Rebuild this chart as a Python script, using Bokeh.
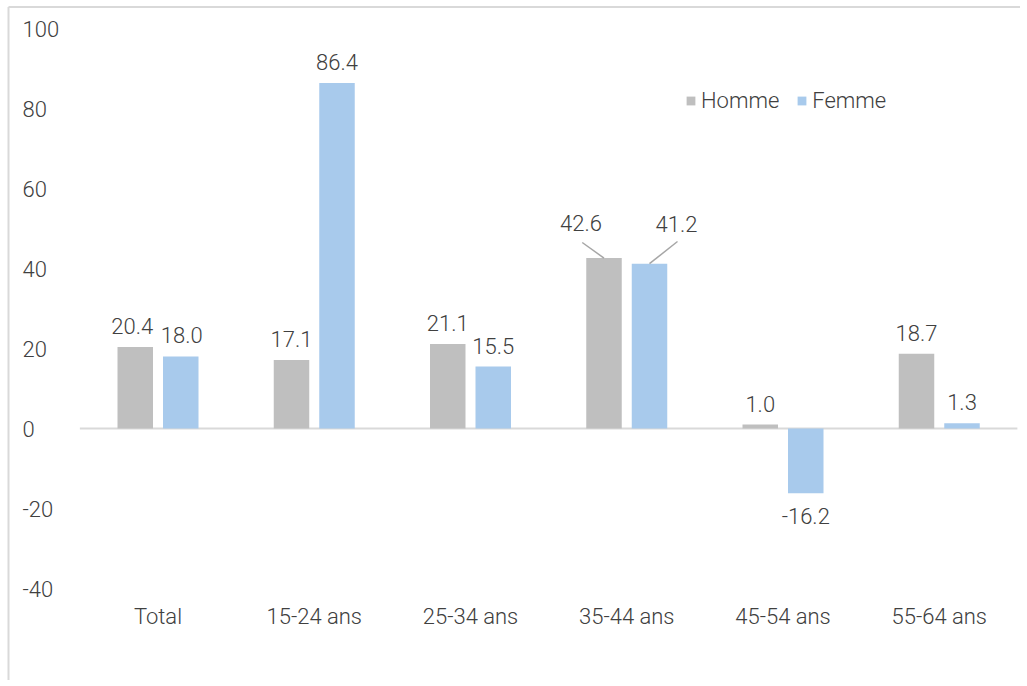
from bokeh.plotting import figure
from bokeh.models import Range1d, ColumnDataSource, Legend, LegendItem
from bokeh.core.properties import value
from bokeh.embed import file_html
from bokeh.resources import INLINE
import numpy as np

# ---------------- data ----------------
categories = ["Total", "15-24 ans", "25-34 ans", "35-44 ans", "45-54 ans", "55-64 ans"]
homme = [20.4, 17.1, 21.1, 42.6, 1.0, 18.7]
femme = [18.0, 86.4, 15.5, 41.2, -16.2, 1.3]
y_ticks = [-40, -20, 0, 20, 40, 60, 80, 100]
series_names = ["Homme", "Femme"]

# ---------------- layout / style ----------------
W, H = 1020, 680
SX = 156.25          # px per category
SY = 4.0             # px per y unit
LEFT_PAD = 157.5     # px from frame left edge to first category centre
ZERO_PX = 428        # px from frame top to y = 0
OFF = 22.75 / SX     # dodge offset of each bar
BAR_W = 35.5 / SX

FONT_NAME = "Roboto Light, Roboto"
FONT = value(FONT_NAME)
FSIZE = value("22px")
TXT = "#404040"
C_H = "#bfbfbf"
C_F = "#a8caec"
GRID = "#d9d9d9"

x0 = -LEFT_PAD / SX
x1 = x0 + W / SX
y1 = ZERO_PX / SY
y0 = y1 - H / SY

p = figure(width=W, height=H, x_range=Range1d(x0, x1), y_range=Range1d(y0, y1),
           x_axis_type=None, y_axis_type=None, output_backend="svg",
           toolbar_location=None, min_border=0)
p.grid.visible = False
p.outline_line_color = None
p.background_fill_color = "white"
p.border_fill_color = "white"

# chart-area border (top and left)
p.segment(x0=[x0 + 8 / SX], y0=[y1 - 6.5 / SY], x1=[x1], y1=[y1 - 6.5 / SY], line_color=GRID, line_width=2)
p.segment(x0=[x0 + 8 / SX], y0=[y0], x1=[x0 + 8 / SX], y1=[y1 - 6.5 / SY], line_color=GRID, line_width=2)

# zero line
p.segment(x0=[-0.5], y0=[0], x1=[len(categories) - 0.5], y1=[0], line_color=GRID, line_width=2)

idx = np.arange(len(categories))
src_h = ColumnDataSource(dict(x=idx - OFF, top=homme))
src_f = ColumnDataSource(dict(x=idx + OFF, top=femme))
r_h = p.vbar(x="x", top="top", bottom=0, width=BAR_W, source=src_h, fill_color=C_H, line_color=None)
r_f = p.vbar(x="x", top="top", bottom=0, width=BAR_W, source=src_f, fill_color=C_F, line_color=None)

# data labels
# manual nudges (px) for some labels: (series, index) -> (dx, px above value)
nudges = {("H", 0): (-3, 21), ("F", 0): (1, 22), ("H", 3): (-23, 35), ("F", 3): (27, 40)}
lx, ly, lt, xo, yo = [], [], [], [], []
for key, xs, vals in (("H", idx - OFF, homme), ("F", idx + OFF, femme)):
    for i, (xx, v) in enumerate(zip(xs, vals)):
        dx, up = nudges.get((key, i), (0, 21))
        lx.append(xx)
        ly.append(v)
        lt.append(f"{v:.1f}")
        xo.append(dx)
        yo.append(-up if v >= 0 else 23)
p.text(x="x", y="y", text="t", x_offset="xo", y_offset="yo",
       source=ColumnDataSource(dict(x=lx, y=ly, t=lt, xo=xo, yo=yo)),
       text_font=FONT, text_font_size=FSIZE, text_color=TXT,
       text_align="center", text_baseline="alphabetic")

# leader lines for 35-44 ans
i3 = categories.index("35-44 ans")
p.segment(x0=[i3 - OFF, i3 + OFF], y0=[homme[i3], femme[i3]],
          x1=[i3 - OFF - 21.75 / SX, i3 + OFF + 28 / SX],
          y1=[homme[i3] + 15.6 / SY, femme[i3] + 22.2 / SY],
          line_color="#a6a6a6", line_width=1.5)

# y tick labels (left aligned)
p.text(x=[x0 + 22 / SX] * len(y_ticks), y=y_ticks, text=[str(t) for t in y_ticks],
       y_offset=0, text_font=FONT, text_font_size=FSIZE, text_color=TXT,
       text_align="left", text_baseline="alphabetic")

# category labels
p.text(x=idx, y=[y_ticks[0]] * len(categories), text=categories, y_offset=28,
       text_font=FONT, text_font_size=FSIZE, text_color=TXT,
       text_align="center", text_baseline="alphabetic")

legend = Legend(items=[LegendItem(label=series_names[0], renderers=[r_h]),
                       LegendItem(label=series_names[1], renderers=[r_f])],
                orientation="horizontal", location=(685, H - 100 - 13),
                glyph_width=11, glyph_height=11, label_standoff=5, spacing=17,
                padding=0, margin=0, border_line_color=None, background_fill_alpha=0,
                label_text_font=FONT_NAME, label_text_font_size="22px", label_text_color=TXT)
p.add_layout(legend)

open("out.html", "w").write(file_html(p, INLINE))
